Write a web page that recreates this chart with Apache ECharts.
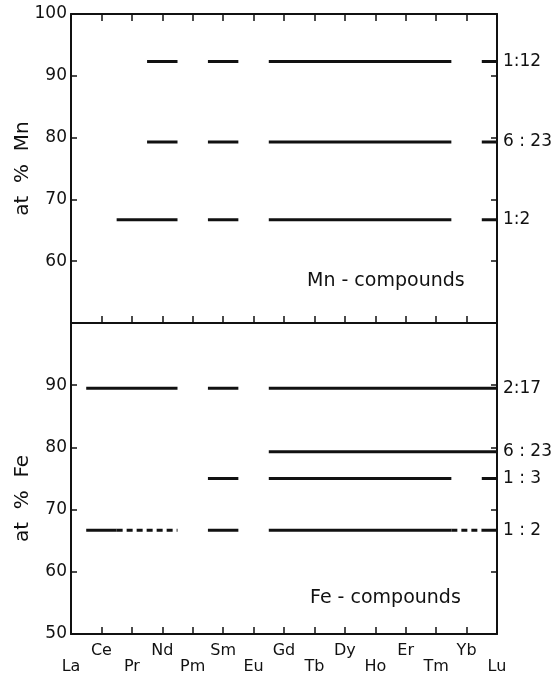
<!DOCTYPE html>
<html>
<head>
<meta charset="utf-8">
<script src="https://cdn.jsdelivr.net/npm/echarts@6/dist/echarts.min.js"></script>
<style>
html,body{margin:0;padding:0;background:#fff;}
#chart{width:559px;height:681px;}
</style>
</head>
<body>
<div id="chart"></div>
<script>
// ---- data ----
const elements = ['La','Ce','Pr','Nd','Pm','Sm','Eu','Gd','Tb','Dy','Ho','Er','Tm','Yb','Lu'];
const yTicks = [50, 60, 70, 80, 90, 100];

const mnRatioLabels = ['1:12', '6 : 23', '1:2'];
const mnRatioValues = [92.3, 79.3, 66.7];
const mn_1_12 = ['Nd','Sm','Gd','Tb','Dy','Ho','Er','Tm','Lu'];
const mn_6_23 = ['Nd','Sm','Gd','Tb','Dy','Ho','Er','Tm','Lu'];
const mn_1_2  = ['Pr','Nd','Sm','Gd','Tb','Dy','Ho','Er','Tm','Lu'];

const feRatioLabels = ['2:17', '6 : 23', '1 : 3', '1 : 2'];
const feRatioValues = [89.5, 79.3, 75.0, 66.7];
const fe_2_17 = ['Ce','Pr','Nd','Sm','Gd','Tb','Dy','Ho','Er','Tm','Yb','Lu'];
const fe_6_23 = ['Gd','Tb','Dy','Ho','Er','Tm','Yb','Lu'];
const fe_1_3  = ['Sm','Gd','Tb','Dy','Ho','Er','Tm','Lu'];
const fe_1_2_solid  = ['Ce','Sm','Gd','Tb','Dy','Ho','Er','Tm','Lu'];
const fe_1_2_dashed = ['Pr','Nd','Yb'];

// ---- build ----
const FONT = 'DejaVu Sans';
const INK = '#111';
const maxIdx = elements.length - 1;

function runs(list) {
  const idx = list.map(e => elements.indexOf(e)).sort((a, b) => a - b);
  const out = [];
  let start = idx[0], prev = idx[0];
  for (let k = 1; k < idx.length; k++) {
    if (idx[k] === prev + 1) { prev = idx[k]; continue; }
    out.push([start, prev]); start = idx[k]; prev = idx[k];
  }
  out.push([start, prev]);
  return out;
}

const series = [];
function addCompound(list, value, grid, dashed) {
  runs(list).forEach(([a, b]) => {
    series.push({
      type: 'line', xAxisIndex: grid * 2, yAxisIndex: grid * 2,
      data: [[Math.max(0, a - 0.5), value], [Math.min(maxIdx, b + 0.5), value]],
      symbol: 'none', silent: true, animation: false,
      lineStyle: { color: INK, width: 3, type: dashed ? [6, 4] : 'solid', cap: 'butt' }
    });
  });
}
addCompound(mn_1_12, mnRatioValues[0], 0, false);
addCompound(mn_6_23, mnRatioValues[1], 0, false);
addCompound(mn_1_2,  mnRatioValues[2], 0, false);
addCompound(fe_2_17, feRatioValues[0], 1, false);
addCompound(fe_6_23, feRatioValues[1], 1, false);
addCompound(fe_1_3,  feRatioValues[2], 1, false);
addCompound(fe_1_2_solid,  feRatioValues[3], 1, false);
addCompound(fe_1_2_dashed, feRatioValues[3], 1, true);

const axisLine = { show: true, onZero: false, lineStyle: { color: INK, width: 2 } };

function xAx(grid, position, ticks, labels) {
  return {
    type: 'value', gridIndex: grid, position: position,
    min: 0, max: maxIdx, interval: 1,
    axisLine: axisLine,
    axisTick: { show: ticks, inside: true, length: 7, lineStyle: { color: INK, width: 1.5 } },
    splitLine: { show: false },
    axisLabel: labels ? {
      show: true, margin: 9, color: INK, fontFamily: FONT, fontSize: 16, lineHeight: 16,
      formatter: v => { const i = Math.round(v); return (i % 2 === 0 ? '\n' : '') + elements[i]; }
    } : { show: false }
  };
}

function yLeft(grid, name, nameShift, hideMin, hideMax) {
  return {
    type: 'value', gridIndex: grid, position: 'left',
    min: yTicks[0], max: yTicks[yTicks.length - 1], interval: 10,
    axisLine: axisLine,
    axisTick: { show: true, inside: true, length: 6, lineStyle: { color: INK, width: 1.5 } },
    splitLine: { show: false },
    axisLabel: { show: true, margin: 4, color: INK, fontFamily: FONT, fontSize: 17,
                 showMinLabel: !hideMin, showMaxLabel: !hideMax },
    name: name, nameLocation: 'middle', nameGap: 38, nameMoveOverlap: false,
    nameTextStyle: { color: INK, fontFamily: FONT, fontSize: 20, padding: [0, nameShift, 0, 0] }
  };
}

function yRight(grid, labels, values) {
  return {
    type: 'value', gridIndex: grid, position: 'right',
    min: yTicks[0], max: yTicks[yTicks.length - 1], interval: 10,
    axisLine: axisLine,
    axisTick: { show: true, inside: true, length: 6, lineStyle: { color: INK, width: 1.5 } },
    splitLine: { show: false },
    axisLabel: {
      show: true, margin: 6, color: INK, fontFamily: FONT, fontSize: 17,
      customValues: values,
      formatter: v => {
        let best = 0;
        values.forEach((x, i) => { if (Math.abs(x - v) < Math.abs(values[best] - v)) best = i; });
        return labels[best];
      }
    }
  };
}

const chart = echarts.init(document.getElementById('chart'), null, { renderer: 'canvas' });
chart.setOption({
  backgroundColor: '#fff',
  animation: false,
  grid: [
    { left: 71, right: 62, top: 14, height: 309, outerBoundsMode: 'none', containLabel: false },
    { left: 71, right: 62, top: 323, bottom: 47, outerBoundsMode: 'none', containLabel: false }
  ],
  xAxis: [
    xAx(0, 'bottom', true, false),
    xAx(0, 'top', true, false),
    xAx(1, 'bottom', true, true),
    xAx(1, 'top', false, false)
  ],
  yAxis: [
    yLeft(0, 'at  %  Mn', 0, true, false),
    yRight(0, mnRatioLabels, mnRatioValues),
    yLeft(1, 'at  %  Fe', 40, false, true),
    yRight(1, feRatioLabels, feRatioValues)
  ],
  graphic: [
    { type: 'text', left: 307, top: 272, style: { text: 'Mn - compounds', fill: INK, font: '19px "DejaVu Sans"' } },
    { type: 'text', left: 310, top: 589, style: { text: 'Fe - compounds', fill: INK, font: '19px "DejaVu Sans"' } }
  ],
  series: series
});
</script>
</body>
</html>
